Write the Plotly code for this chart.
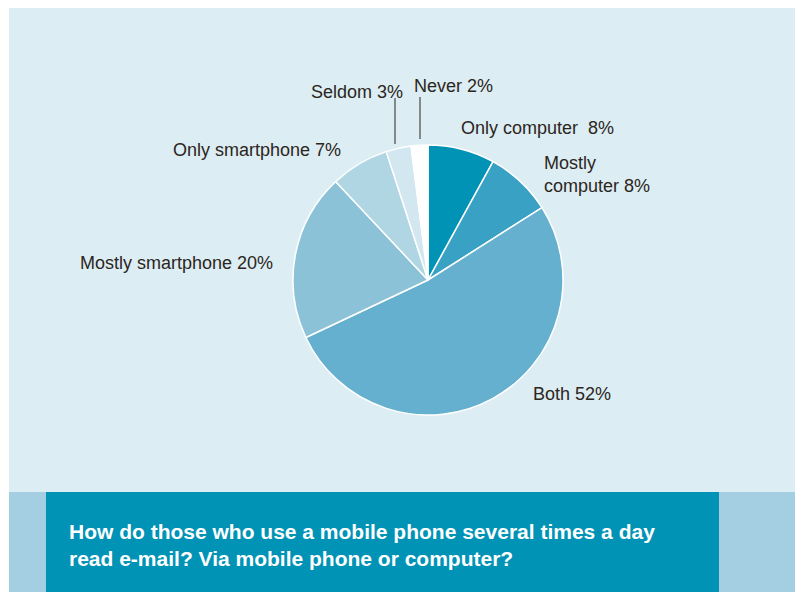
import plotly.graph_objects as go

W, H = 803, 592
OFF = 8  # the page body margin shifts the figure by 8 px

categories = ['Only computer', 'Mostly computer', 'Both', 'Mostly smartphone',
              'Only smartphone', 'Seldom', 'Never']
shares = [8, 8, 52, 20, 7, 3, 2]
slice_colors = ['#0093b5', '#39a1c3', '#65b0cf', '#8bc2d7', '#b0d6e4', '#d3e7f0', '#ffffff']
label_texts = ['Only computer  8%', 'Mostly<br>computer 8%', 'Both 52%',
               'Mostly smartphone 20%', 'Only smartphone 7%', 'Seldom 3%', 'Never 2%']
title_text = ('How do those who use a mobile phone several times a day<br>'
              'read e-mail? Via mobile phone or computer?')


# helpers: page pixel -> paper fraction
def px(x):
    return (x - OFF) / W


def py(y):
    return 1 - (y - OFF) / H


# pie centre (428, 280), radius 135 px (page coords)
cx, cy, r = 428, 280, 135

fig = go.Figure()
fig.add_trace(go.Pie(
    labels=categories,
    values=shares,
    sort=False,
    direction='clockwise',
    rotation=0,
    textinfo='none',
    hoverinfo='label+percent',
    marker=dict(colors=slice_colors, line=dict(color='white', width=1.5)),
    domain=dict(x=[px(cx - r), px(cx + r)], y=[py(cy + r), py(cy - r)]),
    showlegend=False,
))

# label placements: (x px, y px, anchor)
label_pos = [
    (459, 128, 'left'),
    (542, 174, 'left'),
    (531, 394, 'left'),
    (275, 263, 'right'),
    (343, 150, 'right'),
    (405, 92, 'right'),
    (412, 86, 'left'),
]

annotations = []
for txt, (x, y, anc) in zip(label_texts, label_pos):
    annotations.append(dict(
        x=px(x), y=py(y), xref='paper', yref='paper',
        text=txt, showarrow=False, xanchor=anc, yanchor='middle', align='left',
        font=dict(family='Liberation Sans, Arial, sans-serif', size=18, color='#2b2620'),
    ))

annotations.append(dict(
    x=px(67), y=py(545), xref='paper', yref='paper',
    text='<b>' + title_text + '</b>', showarrow=False, xanchor='left', yanchor='middle',
    align='left',
    font=dict(family='Liberation Sans, Arial, sans-serif', size=21, color='white'),
))

shapes = [
    # light blue panel
    dict(type='rect', xref='paper', yref='paper', x0=px(9), x1=px(796), y0=py(492), y1=py(8),
         fillcolor='#ddedf4', line=dict(width=0), layer='below'),
    # bottom strip
    dict(type='rect', xref='paper', yref='paper', x0=px(9), x1=px(796), y0=py(600), y1=py(492),
         fillcolor='#a4cfe2', line=dict(width=0), layer='below'),
    # title box
    dict(type='rect', xref='paper', yref='paper', x0=px(46), x1=px(719), y0=py(600), y1=py(492),
         fillcolor='#0093b5', line=dict(width=0), layer='below'),
    # leader lines for Seldom and Never
    dict(type='line', xref='paper', yref='paper', x0=px(395), x1=px(395), y0=py(98), y1=py(144),
         line=dict(color='#2b2620', width=1)),
    dict(type='line', xref='paper', yref='paper', x0=px(420), x1=px(420), y0=py(97), y1=py(139),
         line=dict(color='#2b2620', width=1)),
]

fig.update_layout(
    width=W, height=H,
    margin=dict(l=0, r=0, t=0, b=0),
    paper_bgcolor='white',
    plot_bgcolor='white',
    annotations=annotations,
    shapes=shapes,
)

fig.write_html('out.html')
